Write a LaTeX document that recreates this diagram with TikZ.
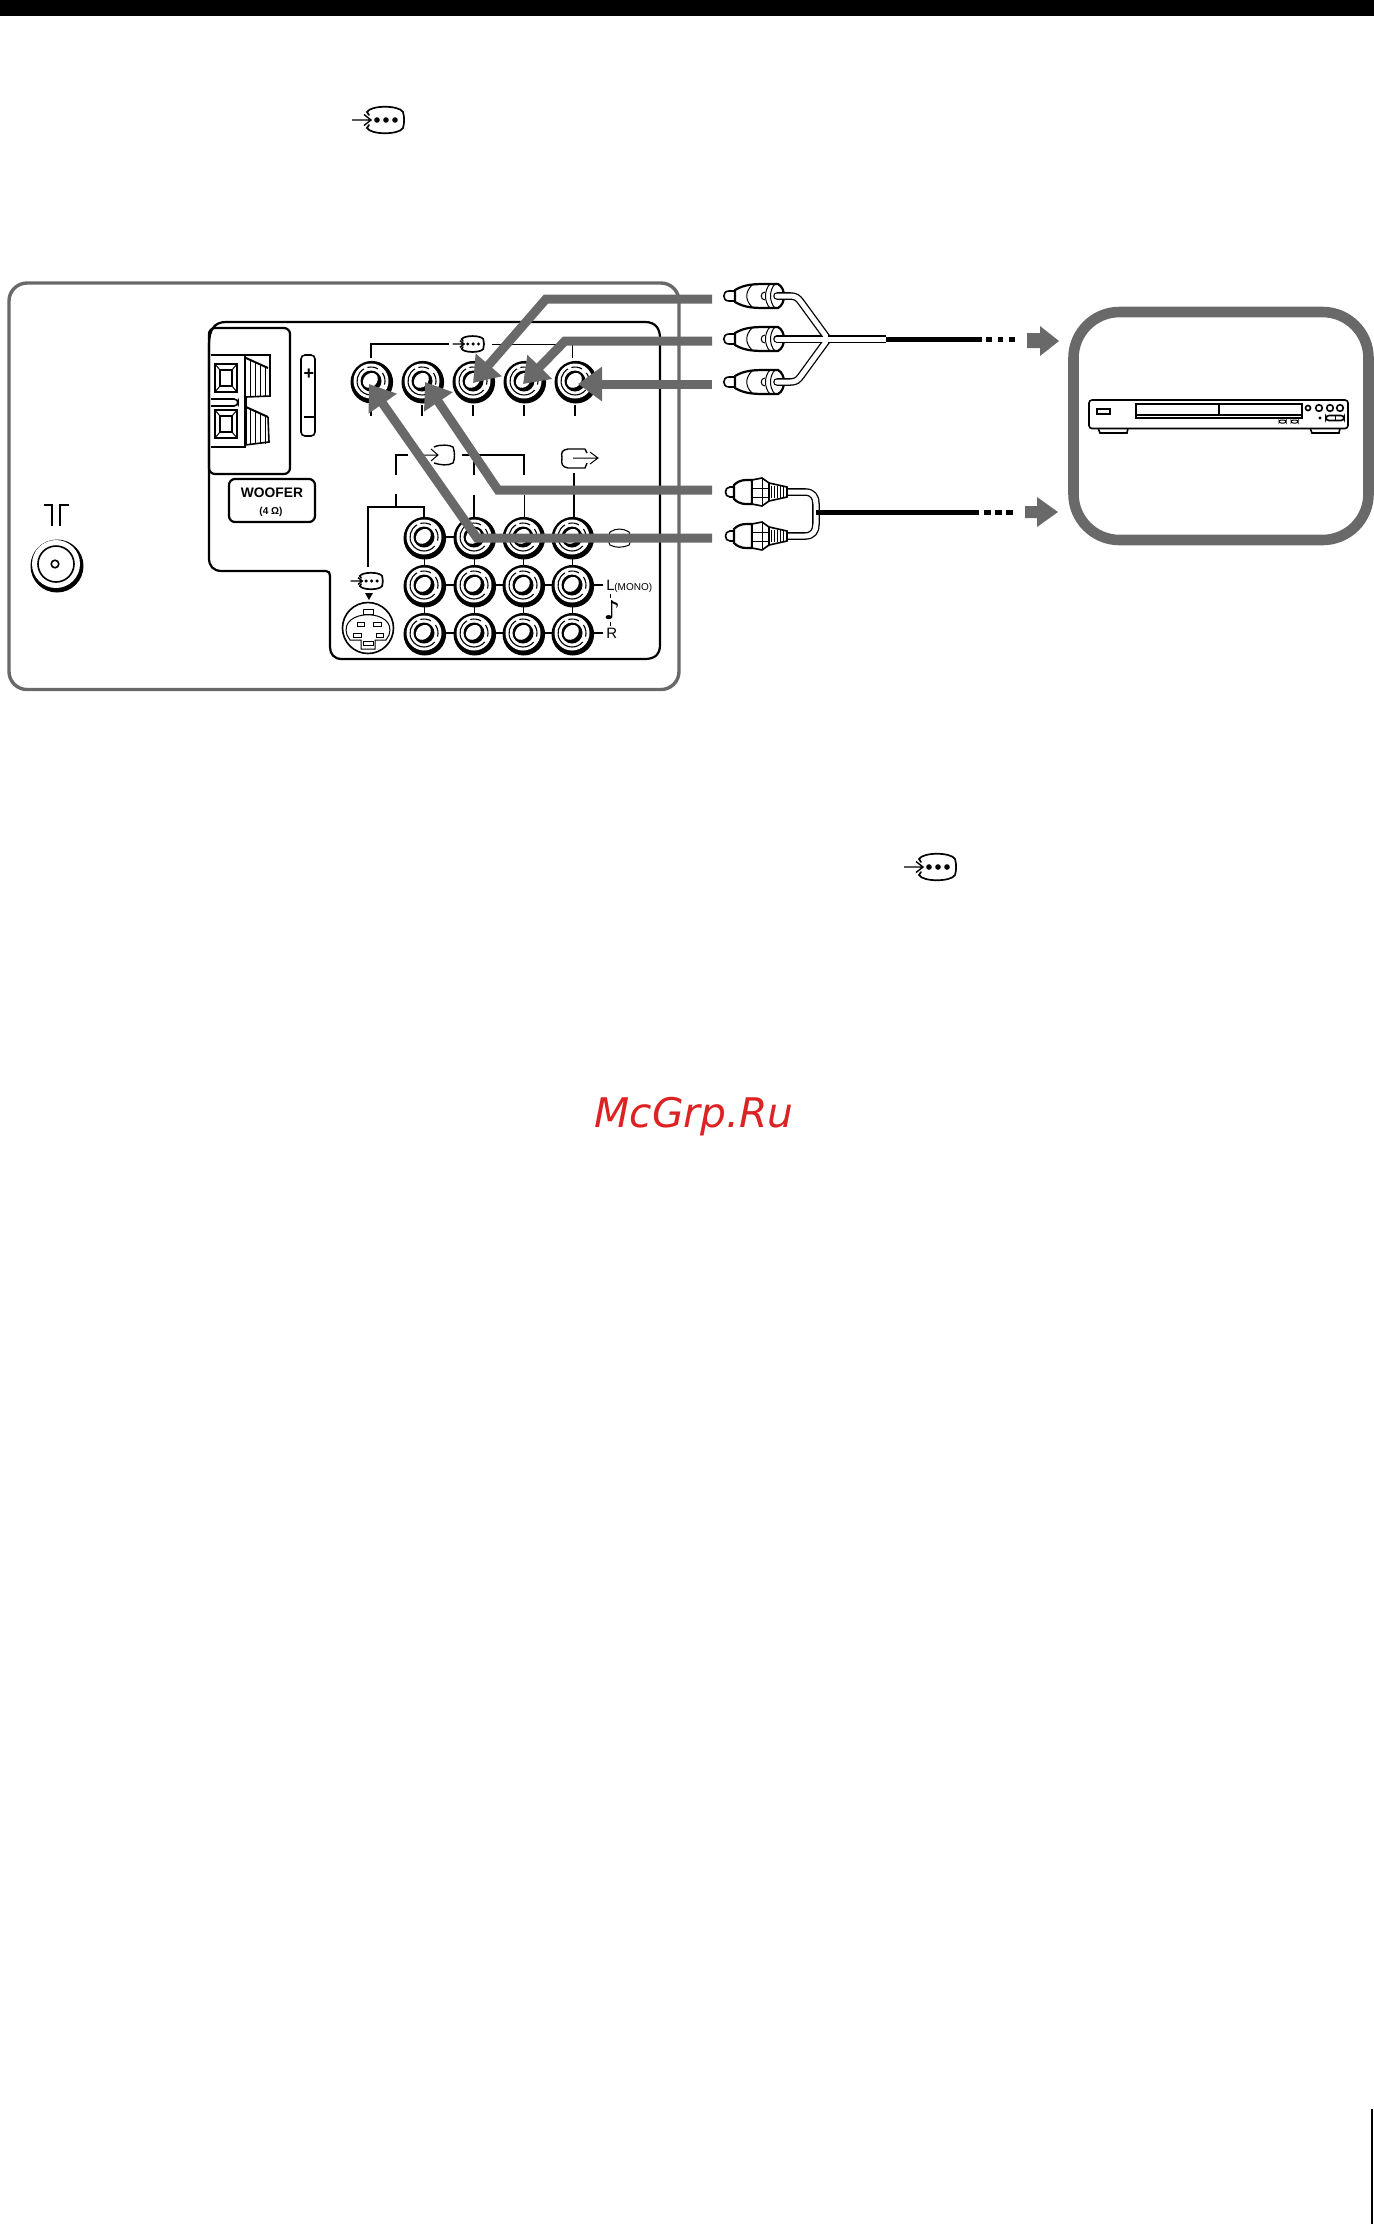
\documentclass[tikz,border=0pt]{standalone}
\usepackage{fontspec}
\setmainfont{Liberation Sans}
\newfontfamily\djfont{DejaVu Sans}
\usetikzlibrary{arrows.meta}
\definecolor{dgray}{HTML}{696969}
\definecolor{wmred}{HTML}{DC2222}
\tikzset{
 x=.5pt,y=-.5pt,
 thinl/.style={line width=.5pt,black},
 medl/.style={line width=.8pt,black},
 heavyl/.style={line width=1.1pt,black},
 cableout/.style={line width=3.8pt,black,line cap=round,line join=round},
 cablein/.style={line width=2.5pt,white,line cap=round,line join=round},
 grayarrow/.style={line width=4.5pt,dgray,miter limit=20,line join=miter,
   -{Triangle[length=12pt,width=16.5pt,sharp]}},
 blockarrow/.style={fill=dgray,draw=none},
 pics/jack/.style={code={
  \begin{scope}[y=.5pt]
  \fill[black] (.8,-1.2) circle[radius=21.3];
  \fill[white] (0,0) circle[radius=17.5];
  \draw[line width=.55pt] (120:14) arc[start angle=120,end angle=320,radius=14];
  \draw[line width=.55pt] (345:14) arc[start angle=345,end angle=395,radius=14];
  \draw[line width=.55pt] (60:14) arc[start angle=60,end angle=105,radius=14];
  \fill[black] (0,0) circle[radius=10.5];
  \fill[white,rotate=45] (0,.9) ellipse[x radius=8.2,y radius=6.6];
  \end{scope}
 }},
 pics/inicon/.style={code={
  \draw[line width=.85pt,line cap=round,black] (-16,-5) -- (-18,-8) .. controls (-14,-15) and (14,-15) .. (18,-8)
     .. controls (19.5,-3) and (19.5,3) .. (18,8) .. controls (14,15) and (-14,15) .. (-18,8) -- (-16,5);
  \draw[line width=.7pt,black] (-33,0) -- (-14,0) (-21,-5.5) -- (-14,0) -- (-21,5.5);
  \fill[black] (-8,0) circle[radius=2.8] (1,0) circle[radius=2.8] (10,0) circle[radius=2.8];
 }},
 pics/rcaplug/.style={code={
  \draw[medl,fill=white] (738,-5) -- (729,-5) .. controls (722,-5) and (722,5) .. (729,5) -- (738,5);
  \draw[heavyl,fill=white] (735,-6) .. controls (745,-12) and (755,-12) .. (768,-12) -- (778,-12)
     .. controls (786,-8) and (786,8) .. (778,12) -- (768,12) .. controls (755,12) and (745,12) .. (735,6) -- cycle;
  \draw[thinl] (752,-11) .. controls (745,-4) and (745,4) .. (752,11);
  \draw[thinl] (765,-4) .. controls (760,-4) and (760,4) .. (765,4);
  \draw[thinl] (770,-12) .. controls (764,-6) and (764,6) .. (770,12);
  \draw[thinl] (775,-12) .. controls (769,-6) and (769,6) .. (775,12);
 }},
 pics/threadplug/.style={code={
  \draw[medl,fill=white] (738,-5) -- (730,-5) .. controls (724,-5) and (724,5) .. (730,5) -- (738,5);
  \draw[heavyl,fill=white] (734,-7) .. controls (740,-13) and (746,-12) .. (752,-12) -- (752,12)
     .. controls (746,12) and (740,13) .. (734,7) -- cycle;
  \draw[medl,fill=white] (752,-12) -- (762,-14) -- (769,-9) -- (769,9) -- (762,14) -- (752,12) -- cycle;
  \draw[line width=.3pt,black] (752,-4) -- (768,-4) (752,5) -- (768,5) (762,-14) -- (762,14);
  \draw[medl,fill=white] (769,-9) -- (787,-5) -- (787,5) -- (769,9) -- cycle;
  \foreach \u in {771.5,774.5,...,786} {\draw[line width=.22pt,black] (\u,-6) -- (\u,6);}
 }},
}
\begin{document}
\begin{tikzpicture}
\useasboundingbox (0,0) rectangle (1374,2224);
% page furniture
\fill[black] (0,0) rectangle (1374,16);
\draw[line width=.9pt,black] (1372,2109) -- (1372,2224);
\pic at (385,120) {inicon};
\pic at (937,867) {inicon};
\node[anchor=base west,inner sep=0pt,text=wmred,font=\djfont\itshape\fontsize{20.4}{21}\selectfont] (wm) at (594,1127) {McGrp.Ru};
% outer frame
\draw[line width=1.7pt,dgray,rounded corners=9pt] (9,283) rectangle (679,689.5);
% panel outline
\draw[heavyl] (209,345) .. controls (209,330) and (214,322) .. (226,322) -- (645,322)
  .. controls (655,322) and (660,328) .. (660,338) -- (660,645)
  .. controls (660,654) and (655,659) .. (645,659) -- (342,659)
  .. controls (334,659) and (330,654) .. (330,647) -- (330,576)
  .. controls (330,573) and (329,571) .. (326,571) -- (222,571)
  .. controls (213,571) and (209,566) .. (209,558) -- cycle;
\draw[heavyl,rounded corners=3pt] (209,328) rectangle (290,474);
% terminal
\draw[medl] (211,355) -- (245,355) -- (245,447) -- (211,447);
\foreach \yy in {364,410} {
 \draw[medl] (215,\yy) rectangle (237,\yy+28);
 \draw[medl] (220,\yy+6) rectangle (232,\yy+22);
 \draw[thinl] (215,\yy) -- (220,\yy+6) (237,\yy) -- (232,\yy+6) (215,\yy+28) -- (220,\yy+22) (237,\yy+28) -- (232,\yy+22);
}
\draw[medl,fill=white,rounded corners=2pt] (211,399) -- (238,399) -- (238,406) -- (211,406);
\draw[medl] (245,355) -- (270,355) -- (270,396) -- (246,397);
\draw[line width=1pt,black] (246,358) -- (268,368);
\foreach \u/\ua/\ub in {250/360/409,255/362/411,260/364/413,265/366.5/415.5} {
 \draw[thinl] (\u,\ua) -- (\u,396);
 \draw[thinl] (\u,\ub) -- (\u,444);
}
\draw[line width=1pt,black] (246,407) -- (268,417);
\draw[medl] (268,417) -- (269,442) -- (245,445);
\draw[medl] (246,396) -- (246,444);
% plus minus
\draw[medl,rounded corners=2pt] (301,355) rectangle (315,436);
\node[font=\bfseries\fontsize{9}{9}\selectfont,inner sep=0pt] (plus) at (309,374) {+};
\draw[line width=.9pt,black] (304,417) -- (314,417);
% woofer
\node[draw,heavyl,rounded corners=3pt,minimum width=43pt,minimum height=21.5pt,inner sep=0pt] (woofer) at (272,500.5) {};
\node[font=\bfseries\fontsize{6.9}{8}\selectfont,inner sep=0pt] (wtxt) at (272,493) {WOOFER};
\node[font=\bfseries\fontsize{5}{5}\selectfont,inner sep=0pt] (ohm) at (271,512) {(4 Ω)};
% antenna
\draw[medl] (44,505) -- (52,505) -- (52,526) (69,505) -- (60,505) -- (60,526);
\fill[black] (57,566) circle[radius=26.5];
\fill[white] (56,564) circle[radius=24];
\draw[medl] (56,564) circle[radius=18];
\draw[medl] (55,564) circle[radius=3.8];
% top jacks and wiring
\foreach \n/\u in {a/371,b/422,c/473,d/524,e/575} {
 \coordinate (j\n) at (\u,381);
 \pic at (j\n) {jack};
}
\draw[medl] (371,358) -- (371,344) -- (449,344);
\draw[thinl] (492,344) -- (572,344) -- (572,358);
\pic[scale=.6] (topicon) at (472.5,344) {inicon};
\draw[line width=1.1pt,black] (371,405) -- (371,416);
\foreach \u in {422,473,524,575} {\draw[medl] (\u,405) -- (\u,416);}
% grid of jacks
\foreach \r/\yy in {1/537,2/585,3/633} {
 \foreach \c/\u in {1/424,2/474,3/523,4/572} {
  \coordinate (g\r\c) at (\u,\yy);
 }
}
\draw[medl] (g11) -- (g12);
\foreach \r in {2,3} {\draw[medl] (g\r1) -- (g\r4) -- ++(31,0);}
\foreach \c in {1,2,3,4} {\draw[thinl] (g1\c) -- (g3\c);}
\foreach \r in {1,2,3} {\foreach \c in {1,2,3,4} {\pic at (g\r\c) {jack};}}
% brackets
\draw[medl] (396,475) -- (396,455) -- (408,455);
\draw[medl] (462,455) -- (524,455) -- (524,475);
\draw[medl] (474,455) -- (474,475);
\draw[medl] (574,473) -- (574,517);
\draw[medl] (396,494) -- (396,507);
\draw[medl] (368,567) -- (368,507) -- (424,507) -- (424,517);
\draw[medl] (474,495) -- (474,517);
\draw[thinl] (524,495) -- (524,517);
% monitor-in icon
\draw[line width=.7pt,black] (434,447) .. controls (440,444) and (450,445) .. (453,447) .. controls (455,452) and (455,459) .. (453,463) .. controls (448,466) and (440,465) .. (434,463);
\draw[thinl] (415,455) -- (438,455) (431,449) -- (438,455) -- (431,461);
% monitor-out icon
\draw[line width=.7pt,black] (585,449) -- (568,449) .. controls (562,450) and (561,452) .. (562,458) .. controls (561,464) and (562,467) .. (568,468) -- (585,468) -- (587,463);
\draw[line width=.7pt,black] (585,449) -- (587,453);
\draw[thinl] (573,458) -- (598,458) (590,452) -- (598,458) -- (590,464);
% video icon
\draw[thinl] (610,532) .. controls (616,528) and (623,528) .. (629,532) .. controls (631,536) and (631,542) .. (629,545) .. controls (622,548) and (616,548) .. (610,545) .. controls (608,542) and (608,536) .. (610,532);
% labels
\node[anchor=base west,inner sep=0pt,font=\fontsize{7.5}{8}\selectfont] (lbll) at (606,590) {L};
\node[anchor=base west,inner sep=0pt,font=\fontsize{5}{5}\selectfont] (lblm) at (614,590) {(MONO)};
\node[anchor=base west,inner sep=0pt,font=\fontsize{7.5}{8}\selectfont] (lblr) at (606,638) {R};
\node[inner sep=0pt,font=\djfont\bfseries\fontsize{13}{13}\selectfont] (note) at (612,610) {♪};
\draw[thinl] (610,594) -- (610,598) (610,622) -- (610,626);
% s-video
\pic[scale=.62] (svicon) at (371,581) {inicon};
\fill[black] (365,593) -- (373,593) -- (369,600) -- cycle;
\draw[medl] (368,628) circle[radius=25.5];
\draw[thinl] (347,635) .. controls (338,608) and (398,608) .. (389,635) -- (386,640) -- (375,640) -- (375,649) -- (361,649) -- (361,640) -- (350,640) -- cycle;
\foreach \xa/\ya/\xb/\yb in {363/609/373/614,357/622/364/626,373/622/381/626,353/633/361/637,376/633/383/637,363/641/373/645} {
 \draw[thinl,fill=white] (\xa,\ya) rectangle (\xb,\yb);
}
% plugs and cables, upper
\foreach \n/\yy in {p/296,q/339,r/382} {
 \coordinate (\n) at (0,\yy);
 \pic at (\n) {rcaplug};
}
\coordinate (y1) at (828,339);
\coordinate (y2) at (886,339);
\foreach \st in {cableout,cablein} {
 \draw[\st] (777,296) -- (790,296) .. controls (796,296) and (798,298) .. (801,302) -- (y1);
 \draw[\st] (777,382) -- (790,382) .. controls (796,382) and (798,380) .. (801,376) -- (y1);
 \draw[\st] (777,339) -- (y1);
}
\draw[cableout,line cap=butt] (y1) -- (y2);
\draw[cablein,line cap=butt] (822,339) -- (y2);
\draw[line width=2.5pt,black] (y2) -- (982,339);
\draw[line width=2.5pt,black] (986,339) -- (992,339) (997.5,339) -- (1003,339) (1009,339) -- (1015,339);
% plugs and cables, lower
\draw[cableout] (785,492) -- (805,492) .. controls (813,492) and (816,497) .. (816,504) -- (816,524) .. controls (816,531) and (813,536) .. (805,536) -- (785,536);
\draw[cablein] (785,492) -- (805,492) .. controls (813,492) and (816,497) .. (816,504) -- (816,524) .. controls (816,531) and (813,536) .. (805,536) -- (785,536);
\foreach \n/\yy in {s/492,t/536} {
 \coordinate (\n) at (0,\yy);
 \pic at (\n) {threadplug};
}
\draw[line width=2.5pt,black] (816,512) -- (979,512);
\draw[line width=2.5pt,black] (984,512) -- (991,512) (995,512) -- (1002,512) (1006,512) -- (1013,512);
% block arrows
\fill[blockarrow] (1027,333) -- (1040,333) -- (1040,326) -- (1059,341) -- (1040,356) -- (1040,348) -- (1027,348) -- cycle;
\fill[blockarrow] (1025,506) -- (1037,506) -- (1037,497) -- (1058,512) -- (1037,527) -- (1037,518) -- (1025,518) -- cycle;
% player frame
\draw[line width=5.3pt,dgray,rounded corners=23pt] (1073.5,312) rectangle (1368.5,540);
% player
\draw[medl,fill=white] (1098,428) -- (1100,433) -- (1127,433) -- (1128,428);
\draw[medl,fill=white] (1310,428) -- (1312,433) -- (1339,433) -- (1340,428);
\draw[medl,fill=white,rounded corners=1.5pt] (1089,400) rectangle (1348,428.5);
\draw[medl] (1097,409) rectangle (1110,414);
\draw[medl] (1136,404) rectangle (1302,415);
\draw[medl] (1136,415) -- (1136,418) -- (1302,418) -- (1302,415);
\draw[line width=.9pt,black] (1219,404) -- (1219,415);
\draw[thinl,rounded corners=1pt] (1279,420) rectangle (1286,423);
\draw[thinl,rounded corners=1pt] (1291,420) rectangle (1298,423);
\draw[medl] (1308,408) circle[radius=2.5];
\foreach \u in {1319,1330,1340} {\draw[medl] (\u,408) circle[radius=3.3];}
\fill[black] (1320,418) circle[radius=1.6];
\draw[medl,rounded corners=1.5pt] (1326,415.5) rectangle (1344,420.5);
\draw[thinl] (1335,415.5) -- (1335,420.5);
% target points for the gray arrows
\coordinate (s1) at (712,299); \coordinate (b1) at (546,299); \coordinate (t1) at (473,383);
\coordinate (s2) at (712,341); \coordinate (b2) at (565,341); \coordinate (t2) at (523,384);
\coordinate (s3) at (712,384); \coordinate (t3) at (578,384);
\coordinate (s4) at (712,490); \coordinate (b4) at (498,490); \coordinate (t4) at (425,382);
\coordinate (s5) at (712,538); \coordinate (b5) at (477,538); \coordinate (t5) at (369,384);
\draw[grayarrow] (s1) -- (b1) -- (t1);
\draw[grayarrow] (s2) -- (b2) -- (t2);
\draw[grayarrow] (s3) -- (t3);
\draw[grayarrow] (s4) -- (b4) -- (t4);
\draw[grayarrow] (s5) -- (b5) -- (t5);
\end{tikzpicture}
\end{document}
